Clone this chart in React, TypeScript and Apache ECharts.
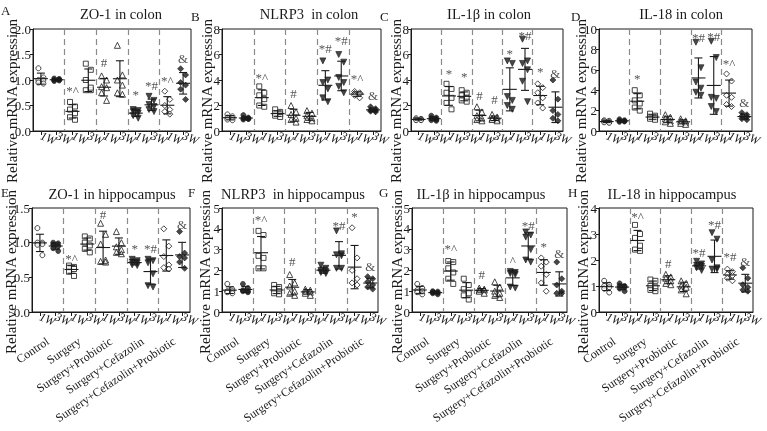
import React, { useEffect, useRef } from "react";
import * as echarts from "echarts";

const timepoints = ["1W", "3W"];
const groups = ["Control", "Surgery", "Surgery+Probiotic", "Surgery+Cefazolin", "Surgery+Cefazolin+Probiotic"];
const categories = groups.flatMap((g) => timepoints.map((t) => `${g}|${t}`));

const panelLetters = ["A", "B", "C", "D", "E", "F", "G", "H"];
const panelTitles = [
  "ZO-1 in colon",
  "NLRP3  in colon",
  "IL-1β in colon",
  "IL-18 in colon",
  "ZO-1 in hippocampus",
  "NLRP3  in hippocampus",
  "IL-1β in hippocampus",
  "IL-18 in hippocampus",
];
const yMax = [2, 8, 8, 10, 1.5, 5, 5, 4];
const yInterval = [0.5, 2, 2, 2, 0.5, 1, 1, 1];
const yName = "Relative mRNA expression";

// ---- values (per category: Control 1W, 3W, Surgery 1W, 3W, ...) ----
const zo1Colon = [
  [1.23, 1.05, 1.0, 1.0, 0.95, 0.93],
  [1.03, 1.01, 1.0, 0.99, 0.98, 1.02],
  [0.57, 0.48, 0.42, 0.35, 0.27, 0.22],
  [1.32, 1.2, 1.0, 0.8, 0.8, 0.85],
  [1.08, 1.0, 0.87, 0.85, 0.75, 0.6],
  [1.68, 1.1, 1.0, 0.9, 0.75, 0.72],
  [0.42, 0.4, 0.38, 0.35, 0.3, 0.25],
  [0.68, 0.6, 0.52, 0.48, 0.42, 0.38],
  [0.78, 0.62, 0.5, 0.42, 0.38, 0.33],
  [1.22, 1.1, 0.95, 0.9, 0.82, 0.62],
];
const nlrp3Colon = [
  [1.3, 1.15, 1.05, 1.0, 0.9, 0.85],
  [1.25, 1.05, 1.0, 0.95, 0.9, 0.95],
  [3.5, 3.0, 2.8, 2.5, 2.0, 1.9],
  [1.7, 1.5, 1.4, 1.3, 1.2, 1.1],
  [2.0, 1.5, 1.3, 1.0, 0.9, 0.7],
  [1.6, 1.4, 1.2, 1.0, 0.9, 0.8],
  [5.5, 4.0, 3.8, 3.3, 2.6, 2.3],
  [6.0, 5.4, 4.2, 3.8, 3.5, 3.0],
  [3.1, 3.0, 2.95, 2.9, 2.8, 2.6],
  [1.9, 1.75, 1.65, 1.6, 1.55, 1.5],
];
const il1bColon = [
  [1.0, 0.95, 0.9, 0.9, 0.85, 0.85],
  [1.2, 1.05, 1.0, 0.9, 0.85, 0.8],
  [3.7, 3.3, 3.0, 2.6, 2.2, 1.7],
  [3.2, 3.0, 2.8, 2.6, 2.4, 2.3],
  [1.9, 1.5, 1.2, 1.0, 0.9, 0.8],
  [1.3, 1.1, 1.0, 0.9, 0.9, 0.8],
  [5.5, 5.3, 2.7, 2.4, 2.0, 1.7],
  [7.2, 5.5, 5.3, 4.8, 3.9, 2.3],
  [3.7, 3.4, 3.0, 2.6, 2.2, 1.8],
  [4.0, 2.5, 1.6, 1.3, 1.0, 0.8],
];
const il18Colon = [
  [1.05, 1.0, 0.95, 0.9, 0.85, 0.8],
  [1.15, 1.05, 1.0, 0.95, 0.9, 0.95],
  [4.0, 3.5, 3.0, 2.7, 2.3, 2.0],
  [1.7, 1.5, 1.4, 1.3, 1.2, 1.1],
  [1.6, 1.35, 1.2, 1.0, 0.9, 0.75],
  [1.2, 1.0, 0.95, 0.85, 0.75, 0.65],
  [8.7, 6.2, 4.8, 4.2, 3.8, 3.5],
  [8.8, 7.2, 3.3, 3.2, 2.4, 1.9],
  [5.6, 4.9, 3.5, 3.3, 2.6, 2.4],
  [1.8, 1.6, 1.45, 1.35, 1.2, 1.1],
];
const zo1Hippo = [
  [1.21, 1.0, 1.0, 0.98, 0.97, 0.82],
  [1.0, 0.99, 0.97, 0.95, 0.92, 0.88],
  [0.67, 0.65, 0.64, 0.62, 0.58, 0.52],
  [1.09, 1.06, 1.0, 0.96, 0.91, 0.86],
  [1.28, 1.12, 0.98, 0.75, 0.73, 0.72],
  [1.16, 1.0, 0.94, 0.9, 0.86, 0.84],
  [0.76, 0.74, 0.72, 0.71, 0.68, 0.67],
  [0.76, 0.74, 0.71, 0.55, 0.38, 0.36],
  [1.2, 0.95, 0.8, 0.68, 0.64, 0.62],
  [1.16, 0.85, 0.8, 0.78, 0.72, 0.63],
];
const nlrp3Hippo = [
  [1.35, 1.1, 1.0, 1.0, 0.95, 0.9],
  [1.35, 1.15, 1.05, 1.0, 1.0, 0.95],
  [3.9, 3.7, 2.7, 2.6, 2.1, 2.1],
  [1.3, 1.2, 1.1, 1.0, 0.9, 0.85],
  [1.8, 1.4, 1.25, 1.0, 0.9, 0.8],
  [1.1, 1.05, 1.0, 0.95, 0.9, 0.8],
  [2.25, 2.1, 2.0, 1.95, 1.9, 1.85],
  [3.9, 2.8, 2.75, 2.7, 2.1, 2.1],
  [4.05, 2.6, 2.0, 1.6, 1.4, 1.3],
  [1.7, 1.6, 1.45, 1.3, 1.2, 1.1],
];
const il1bHippo = [
  [1.35, 1.15, 1.05, 1.0, 0.95, 0.85],
  [1.0, 0.98, 0.95, 0.92, 0.9, 0.85],
  [2.45, 2.4, 2.1, 1.9, 1.6, 1.35],
  [1.6, 1.3, 1.1, 0.9, 0.8, 0.6],
  [1.15, 1.1, 1.05, 1.05, 1.0, 0.9],
  [1.45, 1.2, 1.0, 0.9, 0.8, 0.7],
  [1.95, 1.9, 1.85, 1.8, 1.2, 1.15],
  [3.85, 3.7, 3.6, 3.0, 2.5, 2.4],
  [2.6, 2.4, 2.2, 1.8, 1.4, 1.0],
  [2.4, 1.6, 1.3, 1.0, 0.9, 0.9],
];
const il18Hippo = [
  [1.2, 1.05, 1.0, 0.95, 0.9, 0.75],
  [1.1, 1.0, 1.0, 0.95, 0.9, 0.8],
  [3.35, 3.0, 2.85, 2.55, 2.4, 2.35],
  [1.25, 1.2, 1.0, 0.95, 0.85, 0.8],
  [1.45, 1.35, 1.3, 1.2, 1.1, 1.05],
  [1.2, 1.1, 1.0, 0.95, 0.85, 0.7],
  [1.95, 1.85, 1.8, 1.75, 1.7, 1.6],
  [3.05, 2.8, 2.0, 1.7, 1.65, 1.65],
  [1.65, 1.55, 1.45, 1.4, 1.3, 1.2],
  [1.7, 1.3, 1.05, 0.95, 0.85, 0.8],
];

// ---- significance marks and their heights ----
const zo1ColonSig = ["", "", "*^", "", "#", "", "*", "*#", "*^", "&"];
const zo1ColonSigY = [0, 0, 0.8, 0, 1.35, 0, 0.72, 0.9, 1.0, 1.42];
const nlrp3ColonSig = ["", "", "*^", "", "#", "", "*#", "*#", "*^", "&"];
const nlrp3ColonSigY = [0, 0, 4.2, 0, 2.95, 0, 6.45, 7.1, 4.1, 2.75];
const il1bColonSig = ["", "", "*", "*", "#", "#", "*", "*#", "*", "&"];
const il1bColonSigY = [0, 0, 4.5, 4.25, 2.75, 2.5, 6.1, 7.5, 4.7, 4.5];
const il18ColonSig = ["", "", "*", "", "", "", "*#", "*#", "*^", "&"];
const il18ColonSigY = [0, 0, 5.1, 0, 0, 0, 9.2, 9.3, 6.6, 2.8];
const zo1HippoSig = ["", "", "*^", "", "#", "", "*", "*#", "", "&"];
const zo1HippoSigY = [0, 0, 0.77, 0, 1.4, 0, 0.92, 0.92, 0, 1.26];
const nlrp3HippoSig = ["", "", "*^", "", "#", "", "", "*#", "*", "&"];
const nlrp3HippoSigY = [0, 0, 4.45, 0, 2.42, 0, 0, 4.18, 4.58, 2.2];
const il1bHippoSig = ["", "", "*^", "", "#", "", "^", "*#", "*", "&"];
const il1bHippoSigY = [0, 0, 3.06, 0, 1.8, 0, 2.5, 4.18, 3.14, 2.82];
const il18HippoSig = ["", "", "*^", "", "#", "", "*#", "*#", "*#", "&"];
const il18HippoSigY = [0, 0, 3.67, 0, 1.87, 0, 2.28, 3.35, 2.13, 1.94];

const panelValues = [zo1Colon, nlrp3Colon, il1bColon, il18Colon, zo1Hippo, nlrp3Hippo, il1bHippo, il18Hippo];
const panelSig = [zo1ColonSig, nlrp3ColonSig, il1bColonSig, il18ColonSig, zo1HippoSig, nlrp3HippoSig, il1bHippoSig, il18HippoSig];
const panelSigY = [zo1ColonSigY, nlrp3ColonSigY, il1bColonSigY, il18ColonSigY, zo1HippoSigY, nlrp3HippoSigY, il1bHippoSigY, il18HippoSigY];

// ---- layout / style ----
const FONT = '"Liberation Serif", "Times New Roman", serif';
const INK = "#1a1a1a";
const SIG = "#555555";
const layout = [
  { left: 33, top: 29, width: 158, height: 102 },
  { left: 222, top: 29, width: 159, height: 102 },
  { left: 411, top: 29, width: 152, height: 102 },
  { left: 599, top: 29, width: 153, height: 102 },
  { left: 32, top: 208, width: 158, height: 104 },
  { left: 222, top: 208, width: 156, height: 104 },
  { left: 412, top: 208, width: 155, height: 104 },
  { left: 599, top: 208, width: 154, height: 104 },
];
const letterPos = [[1, 4], [191, 10], [380, 10], [571, 10], [1, 186], [188, 186], [379, 186], [568, 186]];
const titlePos = [[121, 14], [309, 14], [489, 14], [681, 14], [112, 194], [293, 194], [481, 194], [672, 194]];
const yNamePos = [[12, 101], [207, 101], [396, 101], [581, 101], [11, 272], [205, 272], [397, 272], [583, 272]];
const groupSymbol = ["circle", "rect", "triangle", "triangle", "diamond"];
const groupRotate = [0, 0, 0, 180, 0];
const groupSize = [5, 5, 6, 6, 6];
const groupFilled = [[false, true], [false, false], [false, false], [true, true], [false, true]];
const jitter = [-2.5, 2.5, -2.5, 2.5, -2.5, 2.5];

function meanSd(arr: number[]) {
  const m = arr.reduce((a, b) => a + b, 0) / arr.length;
  const v = arr.reduce((a, b) => a + (b - m) * (b - m), 0) / (arr.length - 1);
  return [m, Math.sqrt(v)];
}

function buildOption() {
  const grid: any[] = [];
  const xAxis: any[] = [];
  const yAxis: any[] = [];
  const series: any[] = [];
  const graphic: any[] = [];

  panelValues.forEach((vals, i) => {
    const g = layout[i];
    grid.push({ ...g, show: true, borderColor: INK, borderWidth: 1, backgroundColor: "transparent" });
    xAxis.push({
      type: "category",
      gridIndex: i,
      data: categories,
      boundaryGap: true,
      position: "bottom",
      axisLine: { lineStyle: { color: INK, width: 1 } },
      axisTick: { show: true, alignWithLabel: true, length: 4, lineStyle: { color: INK } },
      axisLabel: {
        interval: 0,
        rotate: -22,
        margin: 4,
        fontSize: 12,
        fontStyle: "italic",
        fontFamily: FONT,
        color: INK,
        formatter: (v: string) => v.split("|")[1],
      },
      splitLine: { show: false },
    });
    xAxis.push({
      type: "category",
      gridIndex: i,
      data: groups,
      boundaryGap: true,
      position: "bottom",
      axisLine: { show: false },
      axisTick: { show: false },
      axisLabel: {
        show: i >= 4,
        interval: 0,
        rotate: 34,
        margin: 28,
        fontSize: 12,
        fontFamily: FONT,
        color: INK,
      },
      splitLine: {
        show: true,
        interval: 0,
        showMinLine: false,
        showMaxLine: false,
        lineStyle: { color: "#8a8a8a", type: [6, 4], width: 1.2 },
      },
    });
    yAxis.push({
      type: "value",
      gridIndex: i,
      min: 0,
      max: yMax[i],
      interval: yInterval[i],
      axisLine: { show: true, lineStyle: { color: INK, width: 1 } },
      axisTick: { show: true, length: 3, lineStyle: { color: INK } },
      axisLabel: {
        fontSize: 13,
        fontFamily: FONT,
        color: INK,
        margin: 2,
        formatter: (v: number) => (yInterval[i] < 1 ? v.toFixed(1) : String(v)),
      },
      splitLine: { show: false },
    });

    const pts: any[] = [];
    vals.forEach((arr, ci) => {
      const gi = Math.floor(ci / 2);
      const filled = groupFilled[gi][ci % 2];
      arr.forEach((v, k) => {
        pts.push({
          value: [ci, v],
          symbol: groupSymbol[gi],
          symbolRotate: groupRotate[gi],
          symbolSize: groupSize[gi],
          symbolOffset: [jitter[k % jitter.length], 0],
          itemStyle: filled
            ? { color: INK, borderColor: INK, borderWidth: 0.8 }
            : { color: "#fff", borderColor: INK, borderWidth: 1 },
        });
      });
    });
    series.push({
      type: "scatter",
      xAxisIndex: 2 * i,
      yAxisIndex: i,
      data: pts,
      z: 2,
      silent: true,
    });

    series.push({
      type: "custom",
      xAxisIndex: 2 * i,
      yAxisIndex: i,
      z: 3,
      silent: true,
      encode: { x: 0, y: 1 },
      data: vals.map((arr, ci) => {
        const [m, s] = meanSd(arr);
        return [ci, m, s];
      }),
      renderItem: (_p: any, api: any) => {
        const x = api.value(0);
        const m = api.value(1);
        const s = api.value(2);
        const pm = api.coord([x, m]);
        const ph = api.coord([x, m + s]);
        const pl = api.coord([x, Math.max(0, m - s)]);
        const style = { stroke: INK, lineWidth: 1.1 };
        return {
          type: "group",
          children: [
            { type: "line", shape: { x1: pm[0], y1: ph[1], x2: pm[0], y2: pl[1] }, style },
            { type: "line", shape: { x1: pm[0] - 4, y1: ph[1], x2: pm[0] + 4, y2: ph[1] }, style },
            { type: "line", shape: { x1: pm[0] - 4, y1: pl[1], x2: pm[0] + 4, y2: pl[1] }, style },
            { type: "line", shape: { x1: pm[0] - 7, y1: pm[1], x2: pm[0] + 7, y2: pm[1] }, style },
          ],
        };
      },
    });

    const sig = panelSig[i];
    const sigY = panelSigY[i];
    const sigItems = sig
      .map((t, ci) => ({ t, ci, y: sigY[ci] }))
      .filter((d) => d.t !== "");
    series.push({
      type: "custom",
      xAxisIndex: 2 * i,
      yAxisIndex: i,
      z: 4,
      silent: true,
      itemStyle: { color: SIG },
      encode: { x: 0, y: 1 },
      data: sigItems.map((d) => [d.ci, d.y]),
      renderItem: (p: any, api: any) => {
        const pt = api.coord([api.value(0), api.value(1)]);
        return {
          type: "text",
          x: pt[0],
          y: pt[1],
          style: {
            text: sigItems[p.dataIndex].t,
            fontSize: 13,
            fontFamily: FONT,
            fill: SIG,
            align: "center",
            verticalAlign: "middle",
          },
        };
      },
    });

    graphic.push({
      type: "text",
      x: letterPos[i][0],
      y: letterPos[i][1],
      style: { text: panelLetters[i], fontSize: 13, fontFamily: FONT, fill: INK, textAlign: "left", textVerticalAlign: "top" },
    });
    graphic.push({
      type: "text",
      x: titlePos[i][0],
      y: titlePos[i][1],
      style: { text: panelTitles[i], fontSize: 14.5, fontFamily: FONT, fill: INK, textAlign: "center", textVerticalAlign: "middle" },
    });
    graphic.push({
      type: "text",
      x: yNamePos[i][0],
      y: yNamePos[i][1],
      rotation: Math.PI / 2,
      style: { text: yName, fontSize: 15, fontFamily: FONT, fill: INK, textAlign: "center", textVerticalAlign: "middle" },
    });
  });

  return {
    animation: false,
    backgroundColor: "#fff",
    textStyle: { fontFamily: FONT },
    grid,
    xAxis,
    yAxis,
    series,
    graphic,
  };
}

export default function App() {
  const ref = useRef<HTMLDivElement>(null);
  useEffect(() => {
    if (!ref.current) return;
    const chart = echarts.init(ref.current, null, { renderer: "svg" });
    chart.setOption(buildOption() as any);
    return () => chart.dispose();
  }, []);
  return (
    <div
      ref={ref}
      style={{
        position: "fixed",
        left: 0,
        top: 0,
        width: 767,
        height: 431,
        background: "#fff",
        filter: "grayscale(1)",
      }}
    />
  );
}
